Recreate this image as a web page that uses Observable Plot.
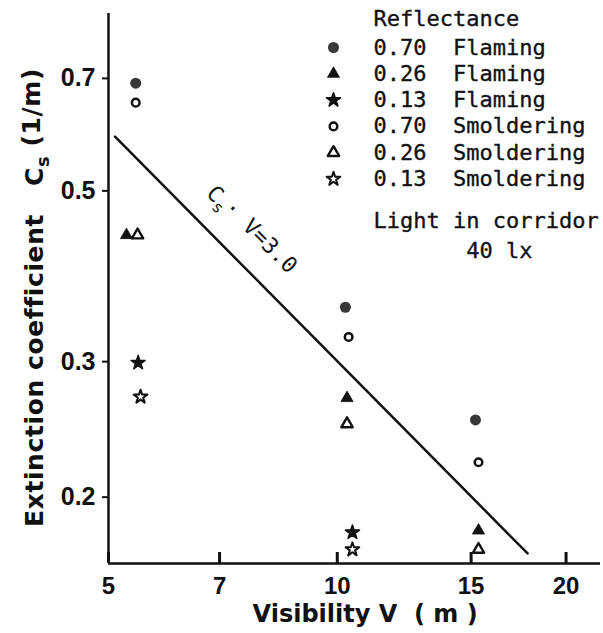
<!DOCTYPE html>
<html><head><meta charset="utf-8">
<script src="https://cdn.jsdelivr.net/npm/d3@7"></script>
<script src="https://cdn.jsdelivr.net/npm/@observablehq/plot@0.6"></script>
<style>
html,body{margin:0;padding:0;background:#fff;}
#chart svg{display:block;overflow:visible;}
#chart text{white-space:pre;}
</style></head>
<body><div id="chart"></div>
<script>
// ---- data ----
const seriesNames = ["0.70  Flaming","0.26  Flaming","0.13  Flaming","0.70  Smoldering","0.26  Smoldering","0.13  Smoldering"];
const visF70 = [5.43, 10.25, 15.2],  csF70 = [0.690, 0.353, 0.252];
const visF26 = [5.28, 10.3, 15.34],  csF26 = [0.438, 0.269, 0.181];
const visF13 = [5.47, 10.47],        csF13 = [0.299, 0.180];
const visS70 = [5.43, 10.35, 15.34], csS70 = [0.651, 0.323, 0.222];
const visS26 = [5.46, 10.3, 15.34],  csS26 = [0.438, 0.249, 0.171];
const visS13 = [5.51, 10.47],        csS13 = [0.270, 0.171];
const lineV  = [5.1, 17.8], lineCs = [0.588, 0.169];   // Cs·V = 3.0
const product = 3.0, labelV = 7.7;
const xTicks = [5, 7, 10, 15, 20];
const yTicks = [0.2, 0.3, 0.5, 0.7];
const xDomain = [5, 22.2], yDomain = [0.164, 0.85];
const legendTitle = "Reflectance";
const noteLines = ["Light in corridor", "       40 lx"];
const lineLabel = "C_s· V=3.0";
const xLabel = "Visibility V  ( m )";
const yLabel = "Extinction coefficient   C_s (1/m)";

// ---- styles ----
const styles = [
  {symbol: "circle",   r: 5.5, fill: "#383838", stroke: "none"},
  {symbol: "triangle", r: 4.5, fill: "#111", stroke: "#111", strokeWidth: 0.8, strokeLinejoin: "round"},
  {symbol: "star",     r: 4.4, fill: "#111", stroke: "#111", strokeWidth: 1.6, strokeLinejoin: "round"},
  {symbol: "circle",   r: 3.8, fill: "white", stroke: "#111", strokeWidth: 2.5},
  {symbol: "triangle", r: 4.2, fill: "white", stroke: "#111", strokeWidth: 2.4, strokeLinejoin: "round"},
  {symbol: "star",     r: 4.3, fill: "white", stroke: "#111", strokeWidth: 2.0, strokeLinejoin: "round"}
];
const groups = [[visF70, csF70], [visF26, csF26], [visF13, csF13], [visS70, csS70], [visS26, csS26], [visS13, csS13]];

const mono = "DejaVu Sans Mono";
const sans = "DejaVu Sans";
const tickFont = "Liberation Sans";

const marks = [];
// axes lines
marks.push(Plot.ruleX([xDomain[0]], {stroke: "#111", strokeWidth: 2.5}));
marks.push(Plot.ruleY([yDomain[0]], {stroke: "#111", strokeWidth: 2.5}));
marks.push(Plot.axisX(xTicks, {tickSize: 0, tickPadding: 13, tickFormat: d => String(d), label: null,
  fontSize: 24, fontWeight: "bold", fontFamily: tickFont, fill: "#111"}));
marks.push(Plot.axisY(yTicks, {tickSize: 6, tickPadding: 7, tickFormat: d => d.toFixed(1), label: null,
  fontSize: 25, fontWeight: "bold", fontFamily: tickFont, fill: "#111", strokeWidth: 2}));
// Cs·V = 3.0 line
marks.push(Plot.line(lineV.map((v, i) => ({V: v, Cs: lineCs[i]})), {x: "V", y: "Cs", stroke: "#111", strokeWidth: 2.5}));
marks.push(Plot.text([{V: labelV, Cs: product / labelV}], {x: "V", y: "Cs", text: () => lineLabel,
  rotate: 45, dy: -44, fontFamily: mono, fontSize: 22, fill: "#111", textAnchor: "middle"}));
// data points
groups.forEach(([vs, cs], i) => {
  const rows = vs.map((v, j) => ({V: v, Cs: cs[j]}));
  marks.push(Plot.dot(rows, {x: "V", y: "Cs", ...styles[i]}));
});
// legend
const legendFont = {fontFamily: mono, fontSize: 22, fill: "#111", stroke: "#111", strokeWidth: 0.35};
marks.push(Plot.text([legendTitle], {frameAnchor: "top-left", dx: 265, dy: 5, textAnchor: "start", lineAnchor: "middle", ...legendFont}));
seriesNames.forEach((name, i) => {
  const dy = 34 + i * 26.3;
  marks.push(Plot.dot([name], {x: null, y: null, frameAnchor: "top-left", dx: 225, dy, ...styles[i]}));
  marks.push(Plot.text([name], {frameAnchor: "top-left", dx: 265, dy, textAnchor: "start", lineAnchor: "middle", ...legendFont}));
});
noteLines.forEach((t, i) => {
  marks.push(Plot.text([t], {frameAnchor: "top-left", dx: 265, dy: 207 + i * 30, textAnchor: "start", lineAnchor: "middle", ...legendFont}));
});
// axis labels
marks.push(Plot.text([xLabel], {frameAnchor: "bottom-left", dx: 144, dy: 51, lineAnchor: "middle", textAnchor: "start",
  fontFamily: sans, fontWeight: "bold", fontSize: 24, fill: "#111"}));
marks.push(Plot.text([yLabel], {frameAnchor: "left", dx: -74, dy: 9, rotate: -90, lineAnchor: "middle", textAnchor: "middle",
  fontFamily: sans, fontWeight: "bold", fontSize: 25, fill: "#111"}));
// inward x ticks: short rules rising from the x-axis baseline (drawn last)
marks.push(Plot.ruleX(xTicks, {x: d => d, stroke: "#111", strokeWidth: 3, insetTop: 539}));

const svg = Plot.plot({
  width: 603, height: 633,
  marginLeft: 108, marginRight: 3, marginTop: 13, marginBottom: 70,
  x: {type: "log", domain: xDomain},
  y: {type: "log", domain: yDomain},
  style: {background: "white", color: "#111", fontFamily: sans},
  marks
});

// subscript "s" in C_s
d3.select(svg).selectAll("text").each(function () {
  const t = this.textContent;
  if (!t.includes("C_s")) return;
  const [a, b] = t.split("C_s");
  const sel = d3.select(this);
  sel.selectAll("*").remove();
  sel.text(null);
  sel.append("tspan").text(a + "C");
  sel.append("tspan").attr("dy", "0.35em").style("font-size", "72%").text("s");
  sel.append("tspan").attr("dy", "-0.35em").text(b);
});
d3.select(svg).selectAll("text").filter(function(){ return this.textContent.startsWith("Extinction"); })
  .style("letter-spacing", "0.6px");

document.getElementById("chart").appendChild(svg);
</script>
</body></html>
